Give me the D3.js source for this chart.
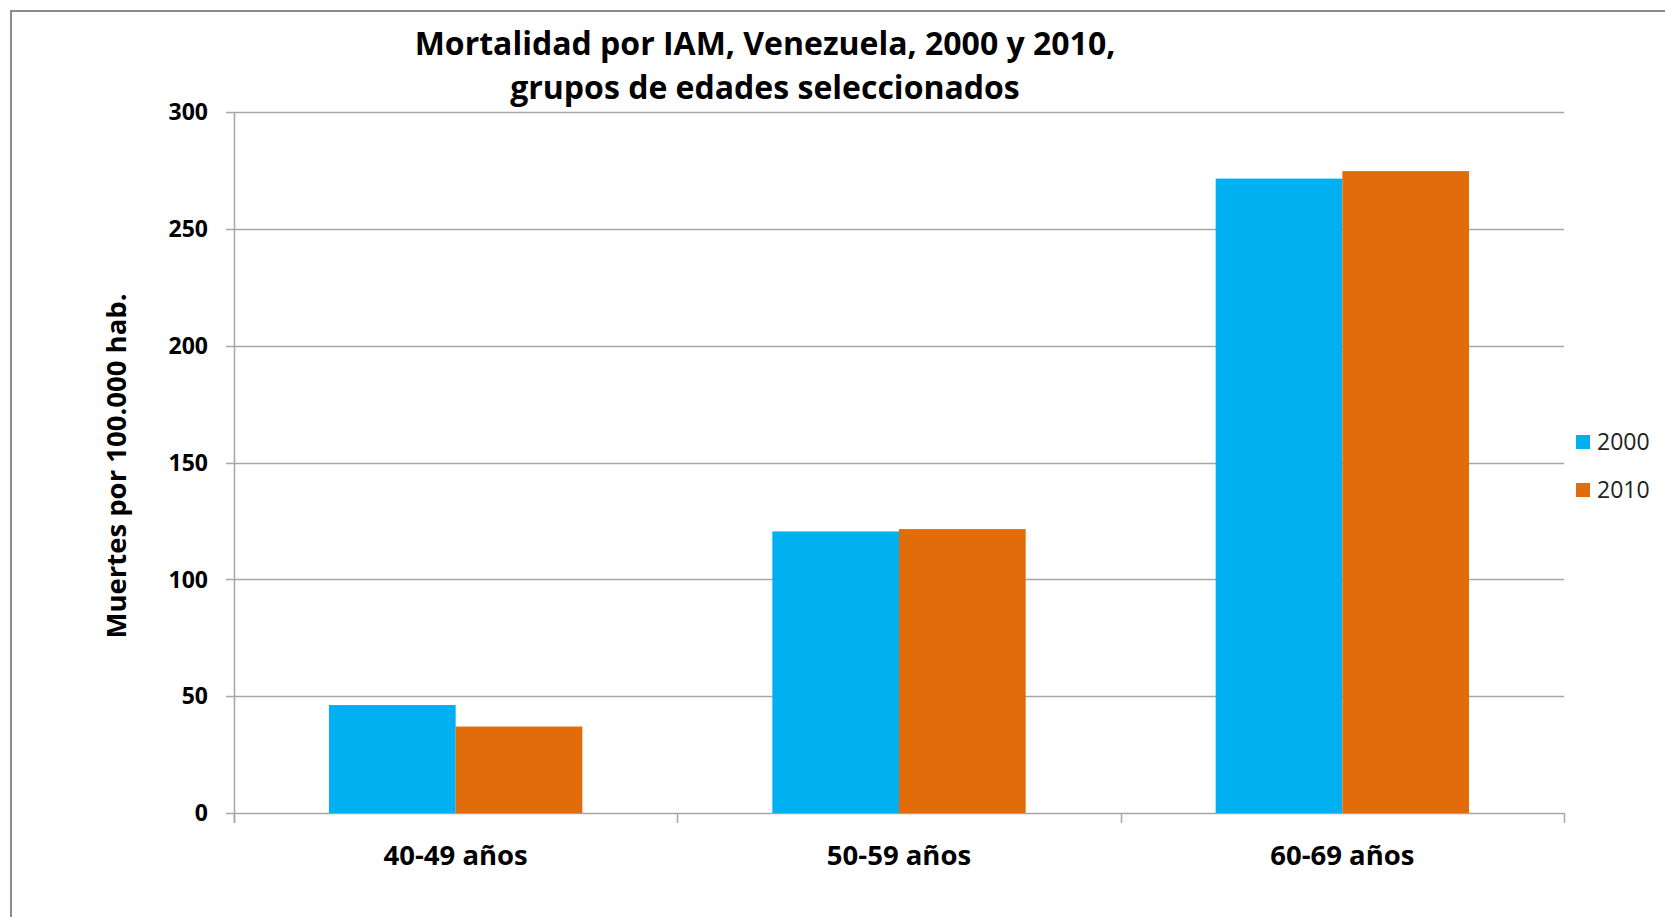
<!DOCTYPE html>
<html>
<head>
<meta charset="utf-8">
<script src="https://cdn.jsdelivr.net/npm/d3@7"></script>
<style>
  body { margin: 0; background: #fff; }
  text { font-family: "Open Sans", sans-serif; fill: #000; }
</style>
</head>
<body>
<div id="chart"></div>
<script>
// Datos
const grupos = ["40-49 años", "50-59 años", "60-69 años"];
const series = ["2000", "2010"];
const valores2000 = [46.2, 120.5, 271.5];
const valores2010 = [37.0, 121.5, 274.7];
const yTicks = [0, 50, 100, 150, 200, 250, 300];
const colores = ["#00B0F0", "#E36C0A"];

const W = 1665, H = 917;
const plot = { left: 234, right: 1564, top: 112, bottom: 813 };

const svg = d3.select("#chart").append("svg")
    .attr("width", W)
    .attr("height", H);

// Marco
svg.append("rect")
    .attr("x", 11).attr("y", 11)
    .attr("width", W).attr("height", H)
    .attr("fill", "none")
    .attr("stroke", "#8c8c8c")
    .attr("stroke-width", 2);

const y = d3.scaleLinear().domain([0, 300]).range([plot.bottom, plot.top]);

const x0 = d3.scaleBand()
    .domain(grupos)
    .range([plot.left, plot.right])
    .paddingInner(3 / 7)
    .paddingOuter(3 / 14);

const x1 = d3.scaleBand()
    .domain(series)
    .range([0, x0.bandwidth()]);

// Lignes de grille
svg.append("g")
    .selectAll("line")
    .data(yTicks)
    .enter().append("line")
    .attr("x1", plot.left - 8)
    .attr("x2", plot.right)
    .attr("y1", d => Math.round(y(d)) + 0.5)
    .attr("y2", d => Math.round(y(d)) + 0.5)
    .attr("stroke", "#a6a6a6")
    .attr("stroke-width", 1.5);

// Barres
const data = grupos.map((g, i) => ({ grupo: g, vals: [valores2000[i], valores2010[i]] }));

const groups = svg.append("g")
    .selectAll("g")
    .data(data)
    .enter().append("g")
    .attr("transform", d => `translate(${x0(d.grupo)},0)`);

groups.selectAll("rect")
    .data(d => d.vals.map((v, j) => ({ serie: series[j], v: v, j: j })))
    .enter().append("rect")
    .attr("x", d => x1(d.serie))
    .attr("width", x1.bandwidth())
    .attr("y", d => y(d.v))
    .attr("height", d => y(0) - y(d.v))
    .attr("fill", d => colores[d.j]);

// Axe Y
svg.append("line")
    .attr("x1", plot.left + 0.5).attr("x2", plot.left + 0.5)
    .attr("y1", plot.top).attr("y2", plot.bottom + 10)
    .attr("stroke", "#a6a6a6")
    .attr("stroke-width", 1.5);

svg.append("g")
    .selectAll("text")
    .data(yTicks)
    .enter().append("text")
    .attr("x", plot.left - 26)
    .attr("y", d => y(d))
    .attr("dy", "0.36em")
    .attr("text-anchor", "end")
    .style("font-size", "23px")
    .style("font-weight", "bold")
    .text(d => d);

// Axe X: ticks aux limites des catégories
const bordes = [plot.left].concat(grupos.map(g => x0(g) + x0.bandwidth() + x0.step() * 3 / 14));
svg.append("g")
    .selectAll("line")
    .data(bordes)
    .enter().append("line")
    .attr("x1", d => Math.round(d) + 0.5)
    .attr("x2", d => Math.round(d) + 0.5)
    .attr("y1", plot.bottom)
    .attr("y2", plot.bottom + 10)
    .attr("stroke", "#a6a6a6")
    .attr("stroke-width", 1.5);

svg.append("g")
    .selectAll("text")
    .data(grupos)
    .enter().append("text")
    .attr("x", d => x0(d) + x0.bandwidth() / 2)
    .attr("y", 865)
    .attr("text-anchor", "middle")
    .style("font-size", "27.5px")
    .style("font-weight", "bold")
    .text(d => d);

// Titre de l'axe Y
svg.append("text")
    .attr("transform", "translate(126,466) rotate(-90)")
    .attr("text-anchor", "middle")
    .style("font-size", "27.5px")
    .style("font-weight", "bold")
    .text("Muertes por 100.000 hab.");

// Titre
const titulo = ["Mortalidad por IAM, Venezuela, 2000 y 2010,", "grupos de edades seleccionados"];
svg.append("g")
    .selectAll("text")
    .data(titulo)
    .enter().append("text")
    .attr("x", 765)
    .attr("y", (d, i) => 55 + i * 44)
    .attr("text-anchor", "middle")
    .style("font-size", "32px")
    .style("font-weight", "bold")
    .text(d => d);

// Légende
const legend = svg.selectAll(".legend")
    .data(series)
    .enter().append("g")
    .attr("class", "legend")
    .attr("transform", (d, i) => `translate(1576,${435 + i * 48})`);

legend.append("rect")
    .attr("width", 14)
    .attr("height", 14)
    .attr("fill", (d, i) => colores[i]);

legend.append("text")
    .attr("x", 21)
    .attr("y", 7)
    .attr("dy", "0.36em")
    .style("font-size", "23px")
    .style("fill", "#222")
    .text(d => d);
</script>
</body>
</html>
